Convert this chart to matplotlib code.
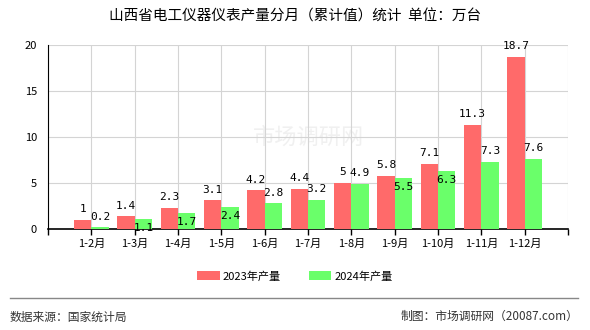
import numpy as np
import matplotlib
matplotlib.use('Agg')
import matplotlib.pyplot as plt

plt.rcParams['font.family'] = ['Noto Sans CJK SC', 'DejaVu Sans']

# data
months = ['1-2月', '1-3月', '1-4月', '1-5月', '1-6月', '1-7月', '1-8月',
          '1-9月', '1-10月', '1-11月', '1-12月']
prod_2023 = [1, 1.4, 2.3, 3.1, 4.2, 4.4, 5, 5.8, 7.1, 11.3, 18.7]
prod_2024 = [0.2, 1.1, 1.7, 2.4, 2.8, 3.2, 4.9, 5.5, 6.3, 7.3, 7.6]

# label offsets for 2024 values (points), mimic the original label placement
off_2024 = [4, -10, -10, -10, 4, 4, 4, -10, -10, 4, 4]

red = '#ff6a6a'
green = '#6aff6a'

fig = plt.figure(figsize=(5.9, 3.3), dpi=100)
ax = fig.add_axes([0.0814, 0.306, 0.8813, 0.558])

x = np.arange(1, len(months) + 1)
w = 0.4
b1 = ax.bar(x - w / 2, prod_2023, w, color=red, label='2023年产量', zorder=3)
b2 = ax.bar(x + w / 2, prod_2024, w, color=green, label='2024年产量', zorder=3)

mono = ['DejaVu Sans Mono']
for xi, v in zip(x, prod_2023):
    ax.annotate(f'{v:g}', (xi - w / 2, v), xytext=(0, 4), textcoords='offset points',
                ha='center', va='bottom', fontsize=8, family=mono, zorder=4)
for xi, v, o in zip(x, prod_2024, off_2024):
    ax.annotate(f'{v:g}', (xi + w / 2, v), xytext=(0, o), textcoords='offset points',
                ha='center', va='bottom', fontsize=8, family=mono, zorder=4)

ax.set_xlim(0, 12)
ax.set_ylim(0, 20)
ax.set_xticks(np.arange(0, 13))
ax.set_xticklabels([''] + months + [''], fontsize=8)
ax.set_yticks([0, 5, 10, 15, 20])
ax.tick_params(axis='y', labelsize=8, length=0, pad=8)
ax.tick_params(axis='x', length=4, width=1, pad=3)
ax.grid(True, color='#d4d4d4', linewidth=0.8, zorder=0)
for s in ['top', 'right']:
    ax.spines[s].set_visible(False)
ax.spines['left'].set_color('black')
ax.spines['bottom'].set_color('black')
ax.spines['bottom'].set_linewidth(1.2)

# watermark
ax.text(6, 10, '市场调研网', fontsize=16, color='#f0f0f0', ha='center', va='center',
        zorder=1)

fig.text(0.5, 0.95, '山西省电工仪器仪表产量分月（累计值）统计  单位：万台',
         ha='center', va='center', fontsize=10.5)

fig.legend(handles=[b1, b2], loc='center', bbox_to_anchor=(0.5, 0.163), ncol=2,
           frameon=False, fontsize=8, handlelength=2.0, handleheight=0.9,
           columnspacing=2.5, handletextpad=0.3)

fig.add_artist(plt.Line2D([0.017, 0.98], [0.097, 0.097], color='#888888', linewidth=1))
fig.text(0.017, 0.04, '数据来源：国家统计局', ha='left', va='center', fontsize=8.5, color='#333333')
fig.text(0.98, 0.04, '制图：市场调研网（20087.com）', ha='right', va='center', fontsize=8.5,
         color='#333333')

fig.savefig('out.png', dpi=100)
